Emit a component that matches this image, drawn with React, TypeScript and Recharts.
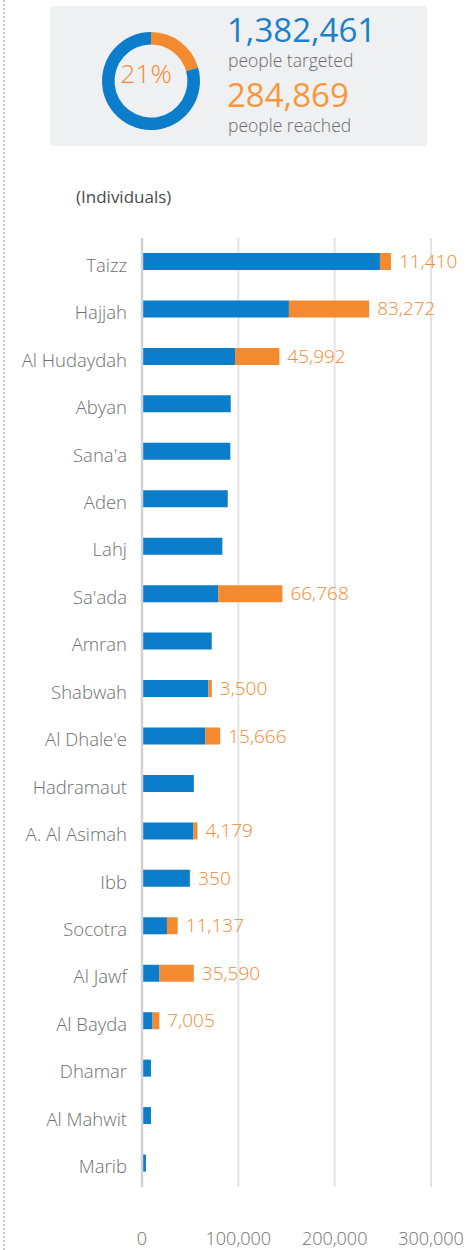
import React from 'react';
import {
  BarChart, Bar, XAxis, YAxis, CartesianGrid, ReferenceLine, LabelList,
  PieChart, Pie, Cell,
} from 'recharts';

const regions = [
  'Taizz', 'Hajjah', 'Al Hudaydah', 'Abyan', "Sana'a", 'Aden', 'Lahj', "Sa'ada",
  'Amran', 'Shabwah', "Al Dhale'e", 'Hadramaut', 'A. Al Asimah', 'Ibb', 'Socotra',
  'Al Jawf', 'Al Bayda', 'Dhamar', 'Al Mahwit', 'Marib',
];
const targeted = [
  247000, 152500, 96600, 92100, 91700, 89000, 83400, 79000,
  72400, 69000, 65500, 53800, 53400, 49700, 25900,
  18200, 11000, 9300, 9300, 4100,
];
const reached = [
  11410, 83272, 45992, null, null, null, null, 66768,
  null, 3500, 15666, null, 4179, 350, 11137,
  35590, 7005, null, null, null,
];
const xTicks = [0, 100000, 200000, 300000];

const totalTargeted = 1382461;
const totalReached = 284869;
const pctLabel = '21%';

const BLUE = '#0b7dca';
const ORANGE = '#f38a2f';
const FONT = '"Open Sans", sans-serif';

const data = regions.map((r, i) => ({ region: r, targeted: targeted[i], reached: reached[i] }));
const pieData = [
  { name: 'reached', value: totalReached },
  { name: 'rest', value: totalTargeted - totalReached },
];

const fmt = (v: number) => v.toLocaleString('en-US');

const YTick = (props: any) => {
  const { x, y, payload } = props;
  return (
    <text x={x} y={y} dy={10} textAnchor="end" fill="#6f6f6f" fontSize={18.5} fontWeight={300} fontFamily={FONT}>
      {payload.value}
    </text>
  );
};

const XTick = (props: any) => {
  const { x, y, payload } = props;
  return (
    <text x={x} y={y} dy={6} textAnchor="middle" fill="#6f6f6f" fontSize={18} fontWeight={300} fontFamily={FONT}>
      {fmt(payload.value)}
    </text>
  );
};

const ReachedLabel = (props: any) => {
  const { x, y, width, height, value } = props;
  if (value === null || value === undefined) return null;
  return (
    <text x={x + width + 8} y={y + height / 2} dy={6.5} textAnchor="start" fill={ORANGE} fontSize={19} fontWeight={300} fontFamily={FONT}>
      {fmt(value)}
    </text>
  );
};

export default function App() {
  return (
    <div style={{ position: 'absolute', left: 0, top: 0, width: 466, height: 1250, overflow: 'hidden', background: '#fff', fontFamily: FONT }}>
      <div style={{ position: 'absolute', left: 3, top: 0, height: 1250, width: 0, borderLeft: '2px dotted #c6c6c6' }} />
      <div style={{ position: 'absolute', left: 50, top: 6, width: 377, height: 140, background: '#eff0f2' }} />
      <div style={{ position: 'absolute', left: 0, top: 0 }}>
        <PieChart width={466} height={150}>
          <Pie
            data={pieData}
            dataKey="value"
            cx={146}
            cy={76}
            innerRadius={36.5}
            outerRadius={49}
            startAngle={90}
            endAngle={-270}
            stroke="none"
            isAnimationActive={false}
          >
            <Cell fill={ORANGE} />
            <Cell fill={BLUE} />
          </Pie>
        </PieChart>
      </div>
      <svg style={{ position: 'absolute', left: 0, top: 0 }} width={466} height={220}>
        <text x={146} y={83} textAnchor="middle" fill={ORANGE} fontSize={26.5} fontWeight={300} fontFamily={FONT}>{pctLabel}</text>
        <text x={227} y={42} fill="#1a80c9" fontSize={33} fontFamily={FONT}>{fmt(totalTargeted)}</text>
        <text x={228} y={67} fill="#6b6b6b" fontSize={17.5} fontWeight={300} fontFamily={FONT}>people targeted</text>
        <text x={227} y={107} fill="#f7973a" fontSize={33} fontFamily={FONT}>{fmt(totalReached)}</text>
        <text x={228} y={132} fill="#6b6b6b" fontSize={17.5} fontWeight={300} fontFamily={FONT}>people reached</text>
        <text x={76} y={203} fill="#4a4a4a" fontSize={17} fontFamily={FONT}>(Individuals)</text>
      </svg>
      <div style={{ position: 'absolute', left: 0, top: 160 }}>
        <BarChart
          width={466}
          height={1090}
          data={data}
          layout="vertical"
          margin={{ top: 78, right: 35, bottom: 13, left: 0 }}
          barCategoryGap={0}
        >
          <CartesianGrid horizontal={false} stroke="#e4e4e4" strokeWidth={2} />
          <XAxis
            type="number"
            domain={[0, 300000]}
            ticks={xTicks}
            axisLine={false}
            tickLine={false}
            height={50}
            tickMargin={46}
            tick={<XTick />}
            interval={0}
          />
          <YAxis
            type="category"
            dataKey="region"
            width={142}
            axisLine={false}
            tickLine={false}
            tickMargin={9}
            tick={<YTick />}
            interval={0}
          />
          <ReferenceLine x={0} stroke="#d2d2d2" strokeWidth={2.5} />
          <Bar dataKey="targeted" stackId="a" fill={BLUE} barSize={17} isAnimationActive={false} />
          <Bar dataKey="reached" stackId="a" fill={ORANGE} barSize={17} isAnimationActive={false}>
            <LabelList dataKey="reached" content={<ReachedLabel />} />
          </Bar>
        </BarChart>
      </div>
    </div>
  );
}
